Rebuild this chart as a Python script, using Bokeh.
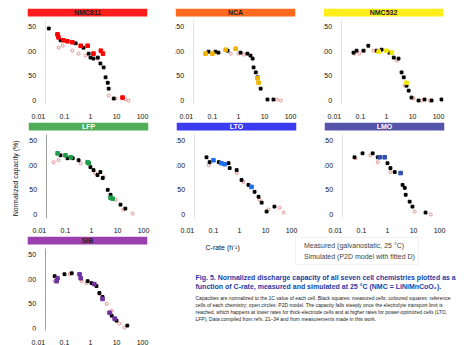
from bokeh.plotting import figure
from bokeh.layouts import column, row
from bokeh.models import (Range1d, FixedTicker, LinearAxis, Label, Legend, LegendItem,
                          PrintfTickFormatter, BoxAnnotation)
from bokeh.embed import file_html
from bokeh.resources import INLINE

FONT = "Liberation Sans"

# ---------------- data (C-rate vs normalized capacity, %) ----------------
chemistries = ["NMC811", "NCA", "NMC532", "LFP", "LTO", "LMO", "SIB"]
bar_colors = ["#ff1c1c", "#ff6a1f", "#ffee1a", "#4fae57", "#3b3bf2", "#5454aa", "#9b3fae"]
bar_text_colors = ["#222222", "#222222", "#222222", "#ffffff", "#ffffff", "#ffffff", "#222222"]
highlight_colors = ["#ff0000", "#f0b400", "#f2e600", "#1f9e4a", "#1e6ef0", "#2f4fb0", "#7030a0"]

x_ticks = [0.01, 0.1, 1, 10, 100]
y_ticks = [0, 50, 100, 150]

NMC811_hl_x = [0.054, 0.059, 0.091, 0.13, 0.20, 0.42, 0.78, 1.3, 2.5, 3.0, 17]
NMC811_hl_y = [134, 128, 122, 120, 118, 111, 111, 95, 101, 95, 6]
NMC811_meas_x = [0.025, 0.071, 0.27, 0.54, 0.85, 1.0, 1.3, 1.9, 2.4, 3.2, 3.8, 4.6, 5.0, 7.8]
NMC811_meas_y = [146, 122, 116, 107, 95, 87, 85, 87, 75, 67, 47, 36, 24, 4]
NMC811_sim_x = [0.059, 0.085, 0.20, 0.35, 0.65, 1.9, 5.0, 9.1, 22, 29]
NMC811_sim_y = [107, 111, 101, 95, 91, 85, 10, 4, 2, 0]

NCA_hl_x = [0.054, 0.10, 0.32, 0.78, 5.4, 5.9]
NCA_hl_y = [95, 95, 103, 105, 45, 36]
NCA_meas_x = [0.071, 0.13, 0.17, 0.38, 1.2, 2.2, 2.9, 3.5, 3.8, 4.6, 5.4, 7.1, 13, 22]
NCA_meas_y = [99, 99, 97, 101, 97, 95, 91, 85, 67, 57, 47, 24, 2, 2]
NCA_sim_x = [0.50, 1.0, 1.6, 30, 42]
NCA_sim_y = [95, 95, 93, 2, 0]

NMC532_hl_x = [0.50, 1.0, 1.6, 5.9]
NMC532_hl_y = [99, 101, 97, 36]
NMC532_meas_x = [0.054, 0.071, 0.13, 0.20, 0.42, 0.65, 1.3, 1.9, 2.9, 3.8, 4.6, 5.9, 7.1, 9.1, 17, 29, 54, 130]
NMC532_meas_y = [97, 101, 101, 111, 101, 103, 97, 87, 85, 57, 47, 30, 20, 6, 0, 2, 0, 2]
NMC532_sim_x = [0.059, 0.091, 0.14, 0.32, 2.5, 5.0, 11, 22, 46]
NMC532_sim_y = [95, 95, 101, 101, 81, 30, 4, 0, 0]

LFP_hl_x = [0.050, 0.10, 0.16, 0.71, 0.78, 5.4, 6.5]
LFP_hl_y = [124, 120, 116, 106, 104, 34, 32]
LFP_meas_x = [0.065, 0.12, 0.19, 0.32, 0.91, 1.2, 1.7, 2.2, 2.7, 4.2, 5.4, 13, 20]
LFP_meas_y = [120, 114, 114, 110, 96, 90, 80, 86, 74, 50, 40, 20, 12]
LFP_sim_x = [0.035, 0.054, 0.38, 1.4, 2.9, 8.5, 17, 38]
LFP_sim_y = [106, 110, 104, 84, 76, 30, 10, 2]

LTO_hl_x = [0.10, 0.20, 0.27, 2.9]
LTO_hl_y = [110, 104, 102, 56]
LTO_meas_x = [0.054, 0.071, 0.16, 0.38, 0.42, 0.78, 1.2, 2.2, 3.8, 5.4, 7.1, 11, 22]
LTO_meas_y = [116, 106, 106, 104, 94, 90, 70, 60, 46, 36, 24, 6, 16]
LTO_sim_x = [0.065, 0.17, 0.78, 1.4, 5.9, 13, 35, 50]
LTO_sim_y = [100, 106, 84, 66, 30, 10, 14, 4]

LMO_hl_x = [0.50, 0.78, 3.2]
LMO_hl_y = [116, 116, 84]
LMO_meas_x = [0.054, 0.11, 0.27, 0.42, 1.0, 1.3, 1.9, 3.8, 4.6, 5.0, 7.1, 9.1, 29]
LMO_meas_y = [116, 124, 124, 116, 104, 94, 86, 60, 54, 40, 26, 16, 4]
LMO_sim_x = [0.059, 0.22, 0.42, 1.3, 11, 46]
LMO_sim_y = [114, 120, 106, 86, 6, 0]

SIB_hl_x = [0.054, 0.050, 0.38, 0.42, 1.4, 2.9, 5.4, 8.5]
SIB_hl_y = [102, 96, 110, 102, 90, 60, 32, 20]
SIB_meas_x = [0.042, 0.10, 0.19, 0.78, 1.1, 1.7, 2.2, 2.9, 6.5, 10, 26]
SIB_meas_y = [106, 110, 112, 96, 92, 86, 72, 64, 26, 16, 6]
SIB_sim_x = [0.042, 0.16, 0.46, 0.71, 2.2, 4.2, 6.5, 13, 20]
SIB_sim_y = [96, 110, 96, 92, 70, 50, 36, 10, 2]

panel_data = [
    (NMC811_hl_x, NMC811_hl_y, NMC811_meas_x, NMC811_meas_y, NMC811_sim_x, NMC811_sim_y),
    (NCA_hl_x, NCA_hl_y, NCA_meas_x, NCA_meas_y, NCA_sim_x, NCA_sim_y),
    (NMC532_hl_x, NMC532_hl_y, NMC532_meas_x, NMC532_meas_y, NMC532_sim_x, NMC532_sim_y),
    (LFP_hl_x, LFP_hl_y, LFP_meas_x, LFP_meas_y, LFP_sim_x, LFP_sim_y),
    (LTO_hl_x, LTO_hl_y, LTO_meas_x, LTO_meas_y, LTO_sim_x, LTO_sim_y),
    (LMO_hl_x, LMO_hl_y, LMO_meas_x, LMO_meas_y, LMO_sim_x, LMO_sim_y),
    (SIB_hl_x, SIB_hl_y, SIB_meas_x, SIB_meas_y, SIB_sim_x, SIB_sim_y),
]

y_axis_title = "Normalized capacity (%)"
x_axis_title = "C-rate (h\u207b\u00b9)"
legend_labels = ["Measured (galvanostatic, 25 \u00b0C)", "Simulated (P2D model with fitted D)"]
caption_title = ["Fig. 5. Normalized discharge capacity of all seven cell chemistries plotted as a",
                 "function of C-rate, measured and simulated at 25 \u00b0C (NMC = LiNiMnCoO\u2082)."]
caption_body = ["Capacities are normalized to the 1C value of each cell. Black squares: measured cells; coloured squares: reference",
                "cells of each chemistry; open circles: P2D model. The capacity falls steeply once the electrolyte transport limit is",
                "reached, which happens at lower rates for thick-electrode cells and at higher rates for power-optimized cells (LTO,",
                "LFP). Data compiled from refs. 21\u201334 and from measurements made in this work."]

SIM_COLOR = "#e58a8a"

# vertical scale: 150 units -> 74 px, frame top = figure top (the coloured strip is inside the frame)
Y_TOP = 186.5
BAR_BOTTOM = 170.3
GAP_BOTTOM = 162.2
X_LO, X_HI = 10 ** -2.42, 10 ** 2.19
X_MID = 10 ** -0.115


def make_panel(i, frame_h, y_lo, bottom):
    hx, hy, mx, my, sx, sy = panel_data[i]
    p = figure(frame_width=120, frame_height=frame_h, x_axis_type="log", title=None,
               x_range=Range1d(X_LO, X_HI), y_range=Range1d(y_lo, Y_TOP),
               output_backend="svg", toolbar_location=None,
               min_border_left=19, min_border_right=9, min_border_top=0, min_border_bottom=bottom,
               outline_line_color=None, background_fill_color="white")
    p.grid.visible = False

    p.scatter(sx, sy, marker="circle", size=3.0, fill_color=None, line_color=SIM_COLOR, line_width=1)
    p.scatter(mx, my, marker="square", size=2.8, fill_color="black", line_color="black")
    p.scatter(hx, hy, marker="square", size=3.6, fill_color=highlight_colors[i], line_color=highlight_colors[i])

    # coloured strip with the chemistry name
    p.add_layout(BoxAnnotation(bottom=GAP_BOTTOM, fill_color="white", fill_alpha=1.0, line_color=None))
    p.add_layout(BoxAnnotation(bottom=BAR_BOTTOM, fill_color=bar_colors[i], fill_alpha=1.0, line_color=None))
    p.add_layout(Label(x=X_MID, y=(BAR_BOTTOM + Y_TOP) / 2, text=chemistries[i], text_align="center",
                       text_baseline="middle", text_font=FONT, text_font_size="7px",
                       text_font_style="bold", text_color=bar_text_colors[i]))

    xa = p.xaxis[0]
    xa.ticker = FixedTicker(ticks=x_ticks)
    xa.formatter = PrintfTickFormatter(format="%g")
    xa.axis_line_color = None
    xa.major_tick_line_color = None
    xa.minor_tick_line_color = None
    xa.major_label_standoff = 3
    xa.major_label_text_font = FONT
    xa.major_label_text_font_size = "7px"
    xa.major_label_text_color = "#111111"

    ya = p.yaxis[0]
    ya.fixed_location = 0.018
    ya.ticker = FixedTicker(ticks=y_ticks)
    ya.axis_line_color = "#a0a0a0" if i in (3, 6) else "#e2e2e2"
    ya.major_tick_line_color = None
    ya.minor_tick_line_color = None
    ya.major_label_standoff = 3
    ya.major_label_text_font = FONT
    ya.major_label_text_font_size = "7px"
    ya.major_label_text_color = "#111111"
    return p


panels = []
for i in range(7):
    if i < 6:
        panels.append(make_panel(i, 96, -8.1, 18))
    else:
        panels.append(make_panel(i, 94, -4.0, 13))

# shared y-axis title on the middle-left panel (trailing no-break spaces move it a little lower)
lab_axis = LinearAxis(ticker=FixedTicker(ticks=[]), axis_label=y_axis_title + "\u00a0" * 8,
                      axis_line_color=None, major_label_standoff=0, axis_label_standoff=10,
                      axis_label_text_font=FONT, axis_label_text_font_size="7px",
                      axis_label_text_font_style="normal", axis_label_text_color="#111111")
panels[3].add_layout(lab_axis, "left")

# text area (legend + caption)
TW = 306
TH = 107
t = figure(frame_width=TW, frame_height=TH, x_range=Range1d(0, TW), y_range=Range1d(0, TH), title=None,
           output_backend="svg", toolbar_location=None,
           min_border_left=0, min_border_right=0, min_border_top=0, min_border_bottom=0,
           x_axis_location=None, y_axis_location=None, outline_line_color=None)
t.grid.visible = False

r_meas = t.scatter([], [], marker="square", size=2.8, fill_color="black", line_color="black")
r_sim = t.scatter([], [], marker="circle", size=3.0, fill_color=None, line_color=SIM_COLOR, line_width=1)
leg = Legend(items=[LegendItem(label=legend_labels[0], renderers=[r_meas]),
                    LegendItem(label=legend_labels[1], renderers=[r_sim])],
             location=(139, 78), label_text_font=FONT, label_text_font_size="7px",
             label_height=9, glyph_height=9, glyph_width=3, spacing=2, padding=3, margin=0,
             border_line_color="#e6e6e6", label_standoff=2)
t.add_layout(leg, "center")

t.add_layout(Label(x=49, y=96, text=x_axis_title, text_font=FONT,
                   text_font_size="7px", text_color="#111111", text_baseline="middle"))
for k, line in enumerate(caption_title):
    t.add_layout(Label(x=39, y=66 - k * 9, text=line, text_font=FONT, text_font_size="7px",
                       text_font_style="bold", text_color="#1a3da8", text_baseline="middle"))
for k, line in enumerate(caption_body):
    t.add_layout(Label(x=39, y=46 - k * 7, text=line, text_font=FONT, text_font_size="5px",
                       text_color="#222222", text_baseline="middle"))

layout = column(row(panels[0], panels[1], panels[2], spacing=0),
                row(panels[3], panels[4], panels[5], spacing=0),
                row(panels[6], t, spacing=0), spacing=0, margin=(8, 0, 0, 8))

open("out.html", "w").write(file_html(layout, INLINE))
